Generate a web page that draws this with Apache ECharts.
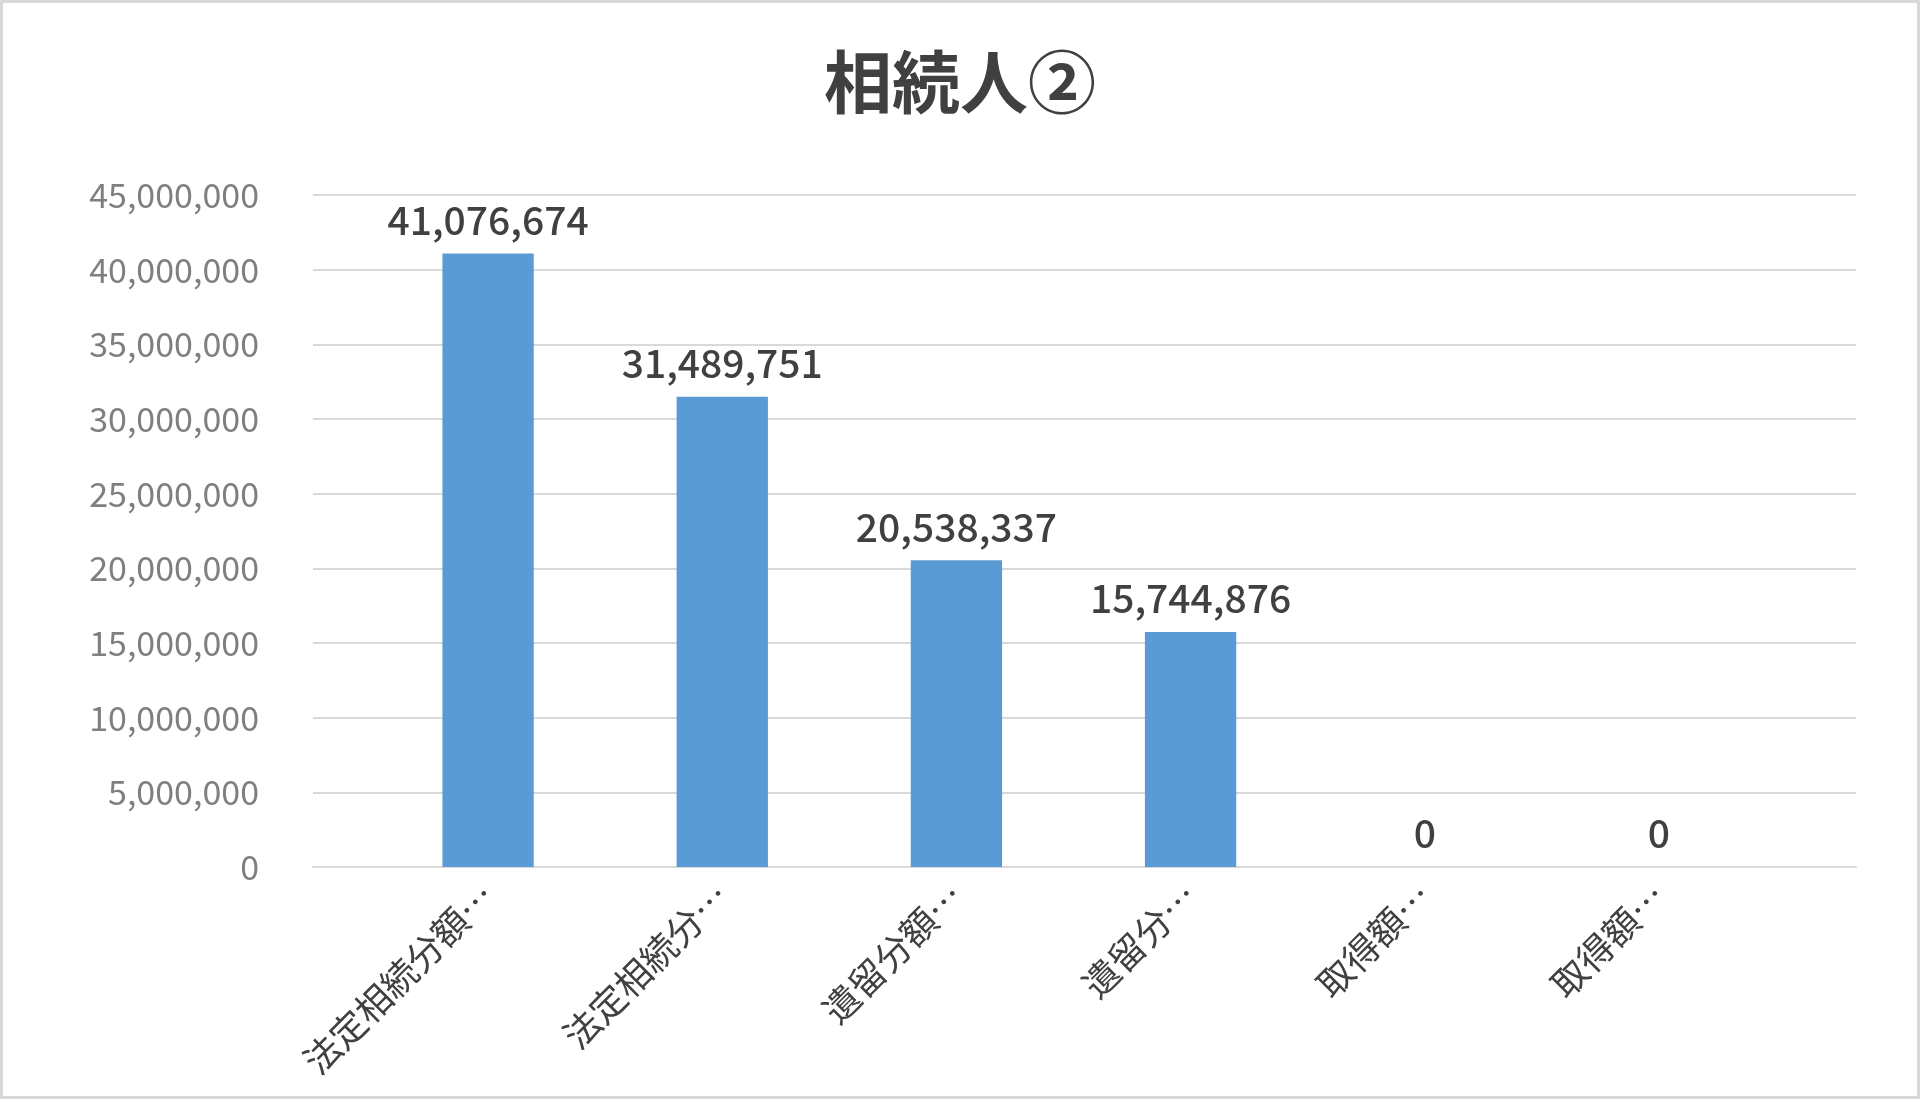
<!DOCTYPE html>
<html><head><meta charset="utf-8">
<script src="https://cdn.jsdelivr.net/npm/echarts@6/dist/echarts.min.js"></script>
<style>html,body{margin:0;padding:0;background:#fff}#c{width:1920px;height:1099px;box-sizing:border-box;border:3px solid #d9d9d9}</style>
</head><body><div id="c"></div>
<script>
const categories = ['法定相続分額…','法定相続分…','遺留分額…','遺留分…','取得額…','取得額…'];
const values = [41076674, 31489751, 20538337, 15744876, 0, 0];
const yTicks = {min:0, max:45000000, interval:5000000};
const font = '"Noto Sans CJK JP","Noto Sans",sans-serif';
const chart = echarts.init(document.getElementById('c'));
chart.setOption({
  title:{text:'相続人②', left:'center', top:40, textStyle:{fontFamily:font, fontSize:68, fontWeight:'bold', color:'#404040'}},
  grid:[{left:310, right:61, top:192, bottom:229},{left:368, right:141, top:192, bottom:229}],
  xAxis:[{type:'category', gridIndex:0, data:[''], axisLine:{lineStyle:{color:'#d9d9d9', width:2}}, axisTick:{show:false}, axisLabel:{show:false}},
    {type:'category', gridIndex:1, data:categories,
    axisLine:{show:false}, axisTick:{show:false},
    axisLabel:{rotate:45, interval:0, fontFamily:font, fontSize:36, color:'#404040', margin:22}}],
  yAxis:[{type:'value', gridIndex:0, min:yTicks.min, max:yTicks.max, interval:yTicks.interval,
    axisLine:{show:false}, axisTick:{show:false},
    splitLine:{lineStyle:{color:'#d9d9d9', width:2}},
    axisLabel:{fontFamily:font, fontSize:34, color:'#7f7f7f', margin:54,
      formatter:v=>v.toLocaleString('en-US')}},
    {type:'value', gridIndex:1, min:yTicks.min, max:yTicks.max, interval:yTicks.interval, show:false, splitLine:{show:false}}],
  series:[{type:'bar', xAxisIndex:1, yAxisIndex:1, data:values, barWidth:'39%', itemStyle:{color:'#5b9bd5'},
    label:{show:true, position:'top', distance:14, fontFamily:font, fontSize:39, fontWeight:500, color:'#404040',
      formatter:p=>p.value.toLocaleString('en-US')}}]
});
</script></body></html>
